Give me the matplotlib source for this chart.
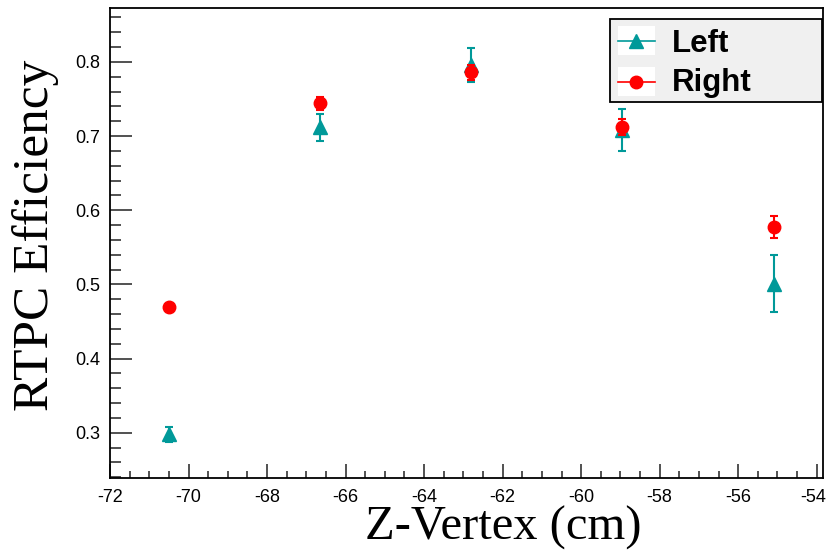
import matplotlib
matplotlib.use("Agg")
import matplotlib.pyplot as plt
import matplotlib.transforms as mtrans
from matplotlib.lines import Line2D
from matplotlib.patches import Rectangle
from matplotlib.ticker import MultipleLocator

z_vertex = [-70.5, -66.65, -62.8, -58.95, -55.1]
left_eff = [0.298, 0.712, 0.796, 0.708, 0.501]
left_err = [0.010, 0.018, 0.023, 0.028, 0.038]
right_eff = [0.469, 0.744, 0.786, 0.712, 0.577]
right_err = [0.003, 0.009, 0.010, 0.011, 0.015]
series_names = ["Left", "Right"]
x_ticks = [-72, -70, -68, -66, -64, -62, -60, -58, -56, -54]
y_ticks = [0.3, 0.4, 0.5, 0.6, 0.7, 0.8]

teal = "#009999"
red = "#ff0000"

W, H = 827, 550
fig = plt.figure(figsize=(8.27, 5.5), dpi=100)
ax = fig.add_axes([110 / W, 1 - 478 / H, 713 / W, 470 / H])

ax.errorbar(z_vertex, left_eff, yerr=left_err, fmt="^", color=teal, ms=10,
            ecolor=teal, elinewidth=1.5, capsize=3, capthick=1.5, zorder=3)
ax.errorbar(z_vertex, right_eff, yerr=right_err, fmt="o", color=red, ms=9,
            ecolor=red, elinewidth=1.5, capsize=3, capthick=1.5, zorder=4)

ax.set_xticks(x_ticks)
ax.set_xticklabels([str(v) for v in x_ticks])
ax.set_yticks(y_ticks)
ax.set_yticklabels([f"{v:.1f}" for v in y_ticks])
ax.xaxis.set_minor_locator(MultipleLocator(0.5))
ax.yaxis.set_minor_locator(MultipleLocator(0.02))
ax.set_xlim(-72, -53.84)
ax.set_ylim(0.2389, 0.8728)

ax.tick_params(axis="x", which="major", direction="in", length=10, width=1.2,
               top=False, pad=8, labelsize=13, color="#333333")
ax.tick_params(axis="x", which="minor", direction="in", length=5, width=1.2,
               top=False, color="#333333")
ax.tick_params(axis="y", which="major", direction="in", length=15.5, width=1.2,
               right=False, pad=7, labelsize=13, color="#333333")
ax.tick_params(axis="y", which="minor", direction="in", length=8, width=1.2,
               right=False, color="#333333")

for sp in ax.spines.values():
    sp.set_linewidth(1.3)
    sp.set_color("black")

for lab in ax.get_xticklabels() + ax.get_yticklabels():
    lab.set_family("Liberation Sans")
lastlab = ax.get_xticklabels()[-1]
lastlab.set_transform(lastlab.get_transform() +
                      mtrans.ScaledTranslation(-4 / 100, 0, fig.dpi_scale_trans))

fig.text(503 / W, 1 - 539.5 / H, "Z-Vertex (cm)", ha="center", va="baseline",
         family="Liberation Serif", fontsize=35)
fig.text(36 / W, 1 - 235 / H, "RTPC Efficiency", ha="center", va="center",
         rotation=90, family="Liberation Serif", fontsize=37)


def fx(px):
    return px / W


def fy(py):
    return 1 - py / H


fig.patches.append(Rectangle((fx(610), fy(102)), fx(822) - fx(610), fy(19) - fy(102),
                             transform=fig.transFigure, facecolor="#f0f0f0",
                             edgecolor="black", linewidth=1.3, zorder=10))
entries = [(series_names[0], teal, "^", 10, 40.5, 52),
           (series_names[1], red, "o", 9, 81.5, 91.5)]
for name, col, mk, ms, ly, by in entries:
    fig.patches.append(Rectangle((fx(617.5), fy(ly + 14.5)), fx(655) - fx(617.5), 29 / H,
                                 transform=fig.transFigure, facecolor="white",
                                 edgecolor="none", zorder=11))
    fig.lines.append(Line2D([fx(617.5), fx(655)], [fy(ly), fy(ly)],
                            transform=fig.transFigure, color=col, lw=1.2, zorder=12))
    fig.lines.append(Line2D([fx(636.2)], [fy(ly)], transform=fig.transFigure,
                            color=col, marker=mk, ms=ms, lw=0, zorder=13))
    fig.text(fx(672), fy(by), name, ha="left", va="baseline",
             family="Liberation Sans", weight="bold", fontsize=22.5, zorder=13)

fig.savefig("out.png", dpi=100)
